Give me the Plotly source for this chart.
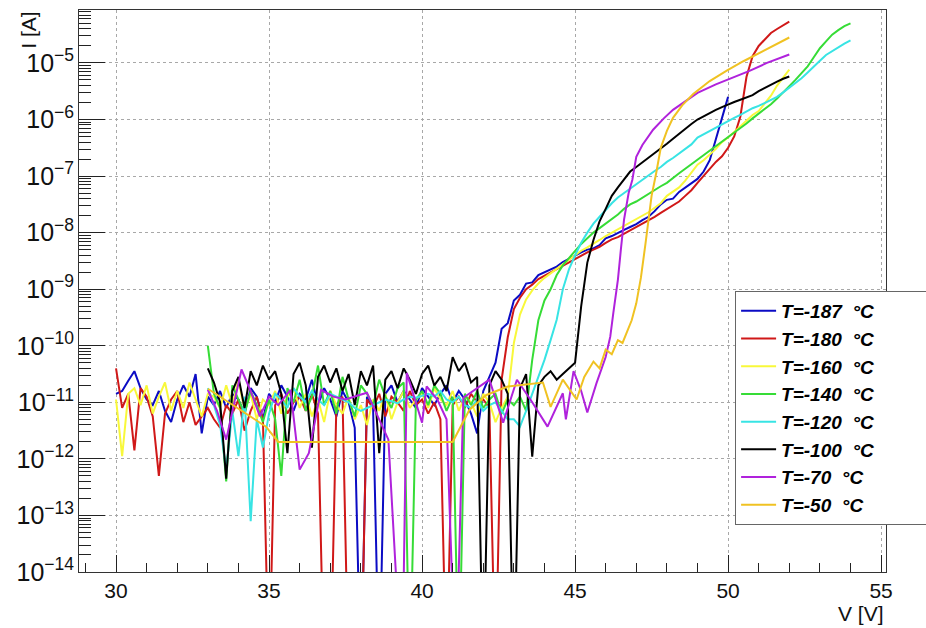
import numpy as np
import plotly.graph_objects as go

# I-V sweeps at several temperatures; currents stored as log10(I [A]).
# Points at -16 are non-positive readings that fall off the log scale.

labels = ["T=-187  °C", "T=-180  °C", "T=-160  °C", "T=-140  °C",
          "T=-120  °C", "T=-100  °C", "T=-70  °C", "T=-50  °C"]
colors = ["#0b0bc4", "#d01818", "#f8f83a", "#36dc36",
          "#38e4e4", "#000000", "#b022dc", "#f0c222"]

# uniform 0.2 V sweeps: (start V, stop V)
sweep_187 = (30.0, 50.0)
logI_187 = [
    -10.85, -10.80, -10.62, -10.45, -10.75, -10.95, -11.05, -10.80, -11.15, -11.35,
    -10.95, -10.70, -10.90, -10.50, -11.55, -10.90, -11.05, -10.80, -11.10, -10.85,
    -10.95, -11.20, -10.75, -10.90, -11.30, -10.85, -11.00, -10.70, -10.90, -11.15,
    -10.85, -10.95, -10.60, -11.05, -10.75, -10.95, -11.25, -10.80, -11.00, -11.45,
    -16.00, -10.90, -11.10, -16.00, -10.85, -10.70, -11.00, -10.80, -10.95, -11.10,
    -10.75, -10.90, -11.05, -10.85, -10.70, -11.00, -10.80, -10.95, -11.20, -11.55,
    -10.80, -10.55, -10.30, -9.70, -9.60, -9.20, -9.10, -8.90, -8.88, -8.75,
    -8.70, -8.66, -8.60, -8.52, -8.46, -8.40, -8.35, -8.30, -8.28, -8.22,
    -8.10, -8.06, -8.00, -7.95, -7.90, -7.85, -7.78, -7.72, -7.62, -7.50,
    -7.42, -7.40, -7.28, -7.20, -7.12, -7.05, -6.92, -6.72, -6.35, -5.95,
    -5.60,
]

sweep_180 = (30.0, 52.0)
logI_180 = [
    -10.40, -11.10, -10.85, -11.85, -10.75, -10.90, -11.25, -12.30, -11.20, -10.95,
    -10.80, -11.35, -11.00, -11.40, -11.25, -11.10, -11.30, -11.45, -11.05, -11.20,
    -10.95, -11.50, -11.15, -10.90, -11.30, -16.00, -11.05, -10.85, -11.20, -11.00,
    -10.90, -11.15, -10.85, -11.20, -16.00, -16.00, -11.05, -10.90, -16.00, -16.00,
    -16.00, -10.95, -11.10, -10.85, -11.25, -10.90, -11.00, -11.15, -10.80, -11.05,
    -10.95, -11.20, -11.00, -11.30, -16.00, -11.05, -10.90, -11.10, -10.85, -11.00,
    -10.95, -11.10, -16.00, -10.60, -9.85, -9.35, -9.15, -9.00, -8.92, -8.82,
    -8.76, -8.70, -8.65, -8.58, -8.52, -8.46, -8.40, -8.35, -8.30, -8.25,
    -8.18, -8.12, -8.08, -8.02, -7.96, -7.90, -7.85, -7.78, -7.72, -7.65,
    -7.58, -7.52, -7.45, -7.35, -7.25, -7.12, -7.00, -6.88, -6.75, -6.65,
    -6.50, -6.30, -5.95, -5.25, -4.88, -4.70, -4.58, -4.47, -4.40, -4.34,
    -4.27,
]

sweep_160 = (30.0, 52.0)
logI_160 = [
    -10.95, -11.95, -10.85, -10.75, -11.05, -10.70, -11.20, -10.90, -10.65, -11.15,
    -10.80, -11.10, -10.65, -10.95, -11.25, -10.85, -10.90, -11.10, -10.70, -11.05,
    -10.60, -11.15, -10.85, -11.30, -10.95, -11.05, -10.80, -11.20, -10.90, -10.75,
    -11.10, -10.85, -11.25, -10.95, -11.35, -10.80, -11.05, -11.20, -10.90, -11.30,
    -11.05, -11.40, -10.95, -11.15, -10.85, -11.30, -11.00, -10.80, -11.10, -10.95,
    -10.85, -11.10, -10.75, -10.95, -11.05, -10.80, -11.15, -10.90, -11.00, -11.25,
    -10.85, -11.00, -11.35, -11.10, -10.90, -9.95, -9.45, -9.18, -9.02, -8.90,
    -8.80, -8.72, -8.64, -8.56, -8.48, -8.40, -8.32, -8.26, -8.20, -8.13,
    -8.06, -8.00, -7.94, -7.88, -7.82, -7.76, -7.70, -7.64, -7.56, -7.48,
    -7.35, -7.28, -7.20, -7.08, -6.95, -6.80, -6.72, -6.62, -6.52, -6.40,
    -6.32, -6.22, -6.12, -6.02, -5.92, -5.85, -5.72, -5.58, -5.40, -5.25,
    -5.12,
]

sweep_140 = (33.0, 54.0)
logI_140 = [
    -10.00, -10.85, -11.10, -12.40, -10.70, -10.95, -11.20, -10.80, -11.05, -11.35,
    -10.95, -11.30, -12.30, -10.75, -11.00, -10.60, -11.15, -10.90, -10.35, -11.05,
    -10.80, -11.20, -10.55, -10.95, -11.25, -10.70, -10.85, -11.05, -10.60, -10.90,
    -11.10, -10.75, -10.65, -16.00, -10.95, -10.80, -11.05, -10.70, -10.85, -11.15,
    -10.90, -16.00, -10.85, -11.05, -10.80, -11.10, -10.95, -10.85, -11.20, -10.95,
    -11.05, -10.90, -11.15, -10.25, -9.55, -9.20, -9.00, -8.75, -8.58, -8.45,
    -8.32, -8.20, -8.10, -8.00, -7.92, -7.84, -7.76, -7.68, -7.58, -7.50,
    -7.45, -7.38, -7.32, -7.25, -7.18, -7.12, -7.03, -6.95, -6.87, -6.79,
    -6.71, -6.64, -6.56, -6.48, -6.40, -6.32, -6.24, -6.16, -6.07, -5.98,
    -5.90, -5.82, -5.73, -5.63, -5.52, -5.42, -5.30, -5.18, -5.06, -4.90,
    -4.74, -4.62, -4.50, -4.42, -4.35, -4.30,
]

sweep_120 = (33.0, 54.0)
logI_120 = [
    -10.75, -11.05, -11.40, -12.20, -11.15, -11.95, -10.90, -13.10, -11.30, -11.80,
    -11.20, -10.85, -10.95, -11.10, -10.75, -10.90, -11.00, -10.80, -10.95, -11.05,
    -10.85, -10.90, -10.95, -11.00, -11.10, -11.15, -11.10, -11.05, -11.00, -10.95,
    -10.98, -11.02, -10.95, -10.90, -10.92, -10.88, -10.85, -10.90, -10.80, -10.95,
    -11.00, -10.90, -11.05, -11.10, -10.95, -11.15, -11.05, -11.00, -11.15, -11.30,
    -11.30, -11.43, -11.15, -10.85, -10.55, -10.25, -9.90, -9.54, -9.00, -8.65,
    -8.40, -8.18, -8.00, -7.84, -7.72, -7.60, -7.48, -7.38, -7.30, -7.22,
    -7.14, -7.06, -6.98, -6.91, -6.84, -6.75, -6.68, -6.60, -6.52, -6.44,
    -6.32, -6.26, -6.20, -6.14, -6.08, -6.02, -5.97, -5.92, -5.86, -5.80,
    -5.76, -5.71, -5.66, -5.60, -5.52, -5.44, -5.35, -5.27, -5.17, -5.06,
    -4.96, -4.86, -4.79, -4.72, -4.66, -4.60,
]

sweep_100 = (33.0, 52.0)
logI_100 = [
    -10.40, -10.65, -11.00, -12.35, -10.80, -10.55, -11.10, -10.45, -10.70, -10.35,
    -10.60, -10.45, -10.85, -11.90, -10.50, -10.30, -10.70, -11.80, -10.55, -10.35,
    -10.65, -10.40, -10.80, -10.50, -11.05, -10.45, -10.70, -10.35, -11.90, -10.60,
    -10.45, -10.75, -10.40, -10.60, -10.85, -10.50, -10.35, -10.70, -10.55, -10.80,
    -10.20, -10.45, -10.30, -10.65, -10.55, -16.00, -10.70, -10.45, -10.60, -10.85,
    -16.00, -10.75, -10.50, -11.96, -10.70, -10.55, -10.45, -10.60, -10.50, -10.40,
    -10.30, -9.30, -8.53, -8.13, -7.80, -7.58, -7.35, -7.20, -7.06, -6.92,
    -6.84, -6.76, -6.68, -6.60, -6.52, -6.43, -6.34, -6.25, -6.16, -6.08,
    -6.00, -5.94, -5.88, -5.83, -5.78, -5.73, -5.69, -5.65, -5.61, -5.57,
    -5.50, -5.44, -5.39, -5.33, -5.28, -5.24,
]

# irregularly sampled sweeps
V_70 = [33.0, 33.3, 33.6, 33.9, 34.1, 34.4, 34.7, 35.0, 35.3, 35.7,
        36.0, 36.3, 36.7, 37.1, 37.5, 37.9, 38.2, 38.9, 39.35, 39.5,
        40.0, 40.15, 40.5, 40.8, 41.1, 41.35, 41.9, 42.2, 42.65, 43.1,
        43.6, 44.1, 44.6, 44.7, 44.95, 45.2, 45.4, 45.7, 46.0, 46.15,
        46.25, 46.4, 46.5, 46.6, 46.75, 46.87, 47.0, 47.2, 47.55, 47.9,
        48.2, 48.6, 49.0, 49.6, 50.2, 50.7, 51.27, 51.6, 52.0]
logI_70 = [-10.78, -11.15, -11.66, -10.95, -10.42, -10.80, -11.25, -10.90, -11.05, -10.78,
           -12.19, -11.90, -10.78, -10.90, -10.95, -10.88, -10.83, -11.66, -16.00, -10.48,
           -11.36, -10.72, -10.95, -11.30, -16.00, -10.92, -10.72, -10.60, -11.36, -10.60,
           -11.00, -11.43, -10.84, -11.30, -10.45, -10.80, -11.18, -10.66, -10.20, -9.84,
           -9.42, -8.83, -8.28, -7.77, -7.30, -7.07, -6.66, -6.45, -6.18, -5.98,
           -5.83, -5.68, -5.53, -5.38, -5.25, -5.14, -5.00, -4.93, -4.85]

V_50 = [33.0, 34.9, 35.3, 41.0, 41.55, 42.1, 42.8, 43.95, 44.2, 44.6,
        45.05, 45.3, 45.6, 45.8, 46.0, 46.2, 46.4, 46.55, 46.7, 46.85,
        47.0, 47.15, 47.3, 47.4, 47.5, 47.65, 47.8, 48.0, 48.2, 48.5,
        48.86, 49.4, 49.97, 50.5, 51.05, 51.5, 52.0]
logI_50 = [-10.76, -11.43, -11.70, -11.70, -11.13, -10.87, -10.72, -10.65, -11.08, -10.60,
           -10.95, -10.55, -10.28, -10.40, -10.07, -10.15, -9.90, -9.95, -9.75, -9.55,
           -9.25, -8.80, -8.20, -7.75, -7.35, -6.95, -6.50, -6.20, -5.97, -5.75,
           -5.55, -5.32, -5.13, -4.97, -4.82, -4.69, -4.55]


def sweep_volts(rng, vals):
    return np.linspace(rng[0], rng[1], len(vals))


series = [
    (sweep_volts(sweep_187, logI_187), logI_187),
    (sweep_volts(sweep_180, logI_180), logI_180),
    (sweep_volts(sweep_160, logI_160), logI_160),
    (sweep_volts(sweep_140, logI_140), logI_140),
    (sweep_volts(sweep_120, logI_120), logI_120),
    (sweep_volts(sweep_100, logI_100), logI_100),
    (np.array(V_70), logI_70),
    (np.array(V_50), logI_50),
]

fig = go.Figure()
pad = "\u00a0" * 9  # the legend box runs on to the right page edge
for (v, li), name, col in zip(series, labels, colors):
    fig.add_trace(go.Scatter(
        x=v, y=10.0 ** np.array(li), mode="lines",
        name=f"<b><i>{name}</i></b>{pad}",
        line=dict(color=col, width=2),
    ))

# transparent copy on an overlaid log axis that only carries the 2..9 minor ticks
v0, li0 = series[0]
fig.add_trace(go.Scatter(
    x=v0, y=10.0 ** np.array(li0), mode="lines", yaxis="y2", opacity=0,
    showlegend=False, hoverinfo="skip", line=dict(width=0.1),
))

font = "Liberation Sans, Arial, Helvetica, sans-serif"
yrange = [-14, -4.064]

fig.update_layout(
    width=926, height=628,
    margin=dict(l=79, r=40, t=10, b=56, autoexpand=False),
    paper_bgcolor="white", plot_bgcolor="white",
    font=dict(family=font, size=20, color="#111"),
    showlegend=True,
    legend=dict(
        x=0.813, y=0.5, xanchor="left", yanchor="top",
        bgcolor="white", bordercolor="#666", borderwidth=1,
        font=dict(family=font, size=19, color="#000"),
        itemwidth=35, tracegroupgap=0,
    ),
    xaxis=dict(
        range=[28.79, 55.16], tickmode="linear", tick0=30, dtick=5,
        ticks="inside", ticklen=17, tickcolor="#222", tickwidth=1,
        showline=True, mirror=True, linecolor="#333", linewidth=1,
        showgrid=True, gridcolor="#a8a8a8", griddash="dot", gridwidth=1,
        zeroline=False,
        minor=dict(dtick=1, ticks="inside", ticklen=9, tickcolor="#222",
                   tickwidth=1, showgrid=False),
        tickfont=dict(size=21),
    ),
    yaxis=dict(
        type="log", range=yrange,
        tickmode="linear", tick0=0, dtick=1, exponentformat="power", showexponent="all",
        ticks="inside", ticklen=26, tickcolor="#222", tickwidth=1,
        showline=True, mirror=True, linecolor="#333", linewidth=1,
        showgrid=True, gridcolor="#a8a8a8", griddash="dot", gridwidth=1,
        zeroline=False,
        tickfont=dict(size=20),
    ),
    yaxis2=dict(
        type="log", range=yrange, overlaying="y", side="left", anchor="x",
        dtick="D1", ticks="inside", ticklen=12, tickcolor="#222", tickwidth=1,
        showticklabels=False, showgrid=False, showline=False, zeroline=False,
    ),
    annotations=[
        dict(text="I [A]", xref="paper", yref="paper", x=-0.063, y=1.0,
             xanchor="center", yanchor="top", textangle=-90, showarrow=False,
             font=dict(size=21, family=font, color="#111")),
        dict(text="V [V]", xref="paper", yref="paper", x=1.0, y=-0.074,
             xanchor="right", yanchor="middle", showarrow=False,
             font=dict(size=21, family=font, color="#111")),
    ],
)

fig.write_html("out.html")
